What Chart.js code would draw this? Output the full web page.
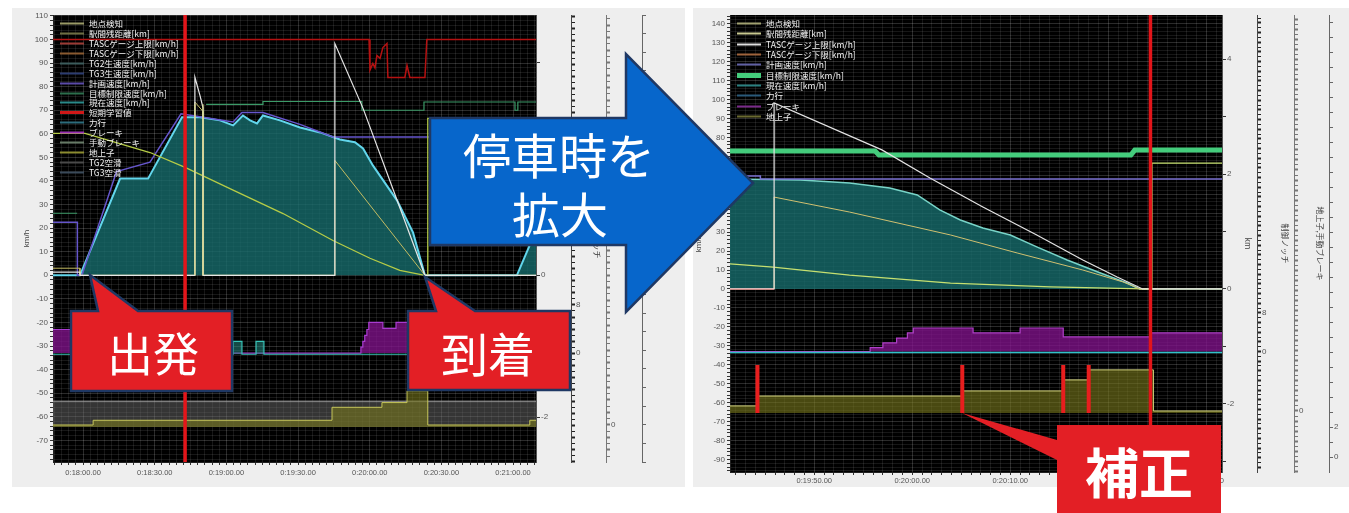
<!DOCTYPE html>
<html lang="ja">
<head>
<meta charset="utf-8">
<title>TASC 停車制御ログ</title>
<script src="https://cdn.jsdelivr.net/npm/chart.js@4.4.1/dist/chart.umd.min.js"></script>
<style>
  html, body { margin: 0; padding: 0; background: #ffffff; }
  body { width: 1349px; height: 513px; position: relative; overflow: hidden; }
  .panel { position: absolute; background: #eeeeee; }
  #pl { left: 12px; top: 8px; width: 673px; height: 479px; }
  #pr { left: 693px; top: 8px; width: 656px; height: 479px; }
  .panel canvas { position: absolute; left: 0; top: 0; }
  #over { position: absolute; left: 0; top: 0; }
  #over text { font-family: "Noto Sans CJK JP", sans-serif; fill: #ffffff; text-anchor: middle; dominant-baseline: central; }
</style>
</head>
<body>
<div class="panel" id="pl"><canvas id="cl" width="673" height="479"></canvas></div>
<div class="panel" id="pr"><canvas id="cr" width="656" height="479"></canvas></div>

<svg id="over" width="1349" height="513" viewBox="0 0 1349 513">
  <polygon points="430,118 626,118 626,54 753,183 626,312 626,245 430,245"
           fill="#0766cb" stroke="#1f3864" stroke-width="2.5"/>
  <text x="559" y="153" font-size="48">停車時を</text>
  <text x="560" y="212" font-size="48">拡大</text>

  <polygon points="71,311 98,311 90,275 138,311 232,311 232,391 71,391"
           fill="#e31f25" stroke="#1f3864" stroke-width="2.5"/>
  <text x="153" y="351" font-size="46">出発</text>

  <polygon points="408,311 436,311 425,277 475,311 570,311 570,390 408,390"
           fill="#e31f25" stroke="#1f3864" stroke-width="2.5"/>
  <text x="488" y="351" font-size="47">到着</text>

  <polygon points="1057,425 1221,425 1221,513 1057,513 1057,460 962,413 1057,440" fill="#e31f25"/>
  <text x="1139" y="470" font-size="54" font-weight="700">補正</text>
</svg>

<script>
// ===== 全体表示 0:17:47 – 0:21:10 (時刻は秒) =====
const L_SPEED_T  = [1067.4, 1078.7, 1095.5, 1107.2, 1121.4, 1129.0, 1137.3, 1142.8, 1146.9, 1149.9, 1152.8, 1155.3, 1162.4, 1170.8, 1179.2, 1187.5, 1193.8, 1197.2, 1201.3, 1211.4, 1218.1, 1223.1, 1261.6, 1269.6];
const L_SPEED_V  = [0, 0, 41, 41, 67, 67, 65.7, 63.6, 67.8, 65.7, 64.4, 67.8, 65.7, 62.7, 60.6, 57.6, 56.4, 53.8, 46.6, 31.8, 18.2, 0, 0, 19];

const L_PLAN_T   = [1067.4, 1077.6, 1077.6, 1079.5, 1094.0, 1108.0, 1121.0, 1142.8, 1146.5, 1155.3, 1170.8, 1184.6, 1269.6];
const L_PLAN_V   = [22.5, 22.5, 0, 0, 44, 48, 68.5, 65, 69, 69, 64, 58.7, 58.7];

const L_TARGET_T = [1067.4, 1077.5, 1077.6, 1131.5, 1155.3, 1155.3, 1196.7, 1196.7, 1222.7, 1222.7, 1260.8, 1260.8, 1262.0, 1262.0, 1269.6];
const L_TARGET_V = [26.3, 26.3, null, 72.5, 72.5, 73.7, 73.7, 70, 70, 73.5, 73.5, 70, 70, 73.5, 73.5];

const L_TASC_HI_T = [1067.4, 1078.7, 1078.7, 1126.8, 1126.8, 1129.0, 1130.2, 1130.2, 1185.4, 1185.4, 1197.2, 1223.1, 1269.6];
const L_TASC_HI_V = [1.3, 1.3, 0, 0, 84, 76, 71, 0, 0, 98.3, 70.8, 0, 0];

const L_TASC_LO_T = [1067.4, 1078.7, 1078.7, 1126.8, 1126.8, 1130.2, 1130.2, 1185.4, 1185.4, 1223.1, 1269.6];
const L_TASC_LO_V = [3, 3, 0, 0, 73.5, 69.5, 0, 0, 48.7, 0, 0];

const L_DETECT_T = [1126.8, 1126.8, 1127.0, 1130.2, 1130.2];
const L_DETECT_V = [0, 72.5, null, 0, 72.5];

const L_DIST_T   = [1067.4, 1080.8, 1108.0, 1122.7, 1142.8, 1163.7, 1184.6, 1200.1, 1212.6, 1223.1, 1224.3, 1224.3, 1269.6];
const L_DIST_KM  = [2.0, 2.0, 1.73, 1.52, 1.20, 0.87, 0.49, 0.24, 0.07, 0, 0, 2.21, 2.21];

const L_LEARN_T  = [1067.4, 1199.7, 1200.1, 1201.3, 1202.2, 1203.0, 1204.3, 1205.5, 1207.2, 1207.6, 1214.7, 1215.6, 1216.8, 1223.1, 1223.9, 1269.6];
const L_LEARN_V  = [100, 100, 87, 89.8, 88, 93.2, 92, 96.6, 98.3, 83.9, 83.9, 89, 83.9, 83.9, 100, 100];

const L_POWER_T  = [1067.4, 1142.8, 1146.5, 1152.4, 1155.7, 1269.6];
const L_POWER_V  = [-33.5, -28, -33.5, -28, -33.5, -33.5];

const L_BRAKE_T  = [1067.4, 1080.0, 1196.3, 1197.1, 1197.9, 1198.8, 1199.6, 1205.5, 1211.0, 1224.3, 1269.6];
const L_BRAKE_V  = [-23, -33, -30.5, -28, -25.5, -23, -20, -22.5, -20, -23, -23];

const L_GROUND_T = [1067.4, 1084.2, 1184.2, 1205.1, 1215.6, 1224.3, 1267.0, 1269.6];
const L_GROUND_V = [-63.5, -61.5, -56, -54, -49, -63.5, -61.5, -61.5];

const L_MANUAL_T = [1067.4, 1269.6];
const L_MANUAL_V = [-53.4, -53.4];

const L_CURSOR_T = 1122.7;

const L_LEGEND_NAMES  = ['地点検知', '駅間残距離[km]', 'TASCゲージ上限[km/h]', 'TASCゲージ下限[km/h]', 'TG2生速度[km/h]', 'TG3生速度[km/h]', '計画速度[km/h]', '目標制限速度[km/h]', '現在速度[km/h]', '短期学習値', '力行', 'ブレーキ', '手動ブレーキ', '地上子', 'TG2空滑', 'TG3空滑'];
const L_LEGEND_COLORS = ['#9a9a66', '#6e6e42', '#9c3a34', '#8a5a30', '#3c5c5c', '#2c3c70', '#5a4aa8', '#2c6e4c', '#2a8a8a', '#d01818', '#2c6c7c', '#9a30b4', '#667a66', '#8c8c30', '#4a4a4a', '#3a4a5a'];

// ===== 停車時拡大 0:19:41 – 0:20:31 =====
const R_SPEED_T  = [1181.4, 1188.6, 1193.6, 1197.7, 1200.5, 1202.8, 1204.9, 1207.2, 1210.0, 1212.7, 1215.8, 1219.2, 1221.9, 1223.2, 1231.6];
const R_SPEED_V  = [58, 57.5, 55.9, 53.3, 49.6, 41.7, 36.4, 32.2, 28.5, 22.2, 15.3, 8.4, 3.2, 0, 0];

const R_PLAN_T   = [1181.4, 1184.5, 1184.5, 1231.6];
const R_PLAN_V   = [59.6, 59.6, 58, 58];

const R_TARGET_T = [1181.4, 1196.2, 1196.6, 1222.3, 1222.7, 1231.6];
const R_TARGET_V = [72.8, 72.8, 70.7, 70.7, 73.3, 73.3];

const R_TASC_HI_T = [1181.4, 1185.9, 1185.9, 1196.9, 1201.8, 1207.2, 1212.7, 1217.4, 1220.9, 1223.5, 1231.6];
const R_TASC_HI_V = [0, 0, 98.2, 73.4, 58.6, 43.3, 28.5, 15.3, 6.3, 0, 0];

const R_TASC_LO_T = [1181.4, 1185.9, 1185.9, 1193.6, 1203.9, 1210.7, 1217.4, 1221.5, 1223.2, 1231.6];
const R_TASC_LO_V = [0, 0, 48.5, 40.6, 28.5, 19, 10, 3.7, 0, 0];

const R_DIST_T   = [1181.4, 1185.8, 1193.6, 1203.9, 1214.1, 1223.5, 1224.45, 1224.45, 1231.6];
const R_DIST_KM  = [0.435, 0.38, 0.24, 0.10, 0.035, 0, 0, 2.19, 2.19];

const R_LEARN_T  = [1181.4, 1185.9];
const R_LEARN_V  = [0, 0];

const R_POWER_T  = [1181.4, 1231.6];
const R_POWER_V  = [-33.5, -33.5];

const R_BRAKE_T  = [1181.4, 1195.7, 1197.0, 1198.4, 1199.5, 1200.1, 1206.2, 1211.0, 1215.4, 1224.3, 1231.6];
const R_BRAKE_V  = [-33, -31, -28.5, -25.9, -23.2, -20.6, -23.2, -20.6, -25.3, -23.2, -23.2];

const R_GROUND_T = [1181.4, 1184.2, 1205.1, 1215.4, 1218.0, 1224.6, 1231.6];
const R_GROUND_V = [-61.7, -56.5, -53.8, -48, -42.7, -64.4, -64.4];

const R_CURSOR_T = 1224.3;

// 地上子による位置補正の時刻
const R_FIX_T    = [1184.2, 1205.1, 1215.4, 1218.0];
const R_FIX_SPAN = [-40.1, -65.4];

const R_LEGEND_NAMES  = ['地点検知', '駅間残距離[km]', 'TASCゲージ上限[km/h]', 'TASCゲージ下限[km/h]', '計画速度[km/h]', '目標制限速度[km/h]', '現在速度[km/h]', '力行', 'ブレーキ', '地上子'];
const R_LEGEND_COLORS = ['#a0a070', '#c8c890', '#e0e0e0', '#a0643c', '#6060a4', '#44cc7c', '#2a8080', '#2a5a7a', '#7a2a8a', '#6a6a30'];

// ---------------------------------------------------------------
const GRID_MINOR = 'rgba(255,255,255,0.09)';
const GRID_MAJOR = 'rgba(255,255,255,0.17)';
const FONT_NUM = '"Liberation Sans", "DejaVu Sans", sans-serif';
const FONT_JP = '"Noto Sans CJK JP", sans-serif';

Chart.defaults.font.family = FONT_NUM;

function series(ts, vs) { return ts.map((t, i) => ({ x: t, y: vs[i] })); }
function vline(t, lo, hi) { return [{ x: t, y: lo }, { x: t, y: hi }]; }
function marks(ts, span) {
  const out = [];
  ts.forEach(t => { out.push({ x: t, y: span[0] }, { x: t, y: span[1] }, { x: t + 0.01, y: null }); });
  return out;
}
function isMult(v, s) { const r = v / s; return Math.abs(r - Math.round(r)) < 1e-6; }
function fmtTime(sec) {
  sec = Math.round(sec);
  const h = Math.floor(sec / 3600), m = Math.floor(sec % 3600 / 60), s = sec % 60;
  return h + ':' + String(m).padStart(2, '0') + ':' + String(s).padStart(2, '0') + '.00';
}
function line(data, color, width, extra) {
  return Object.assign({ data, borderColor: color, borderWidth: width, pointRadius: 0,
                         fill: false, tension: 0, yAxisID: 'y' }, extra || {});
}

const plotBg = {
  id: 'plotBg',
  beforeDraw(chart) {
    const { ctx, chartArea: a } = chart;
    ctx.save();
    ctx.fillStyle = '#000000';
    ctx.fillRect(a.left, a.top, a.right - a.left, a.bottom - a.top);
    ctx.restore();
  }
};

function rowLegend(names, colors, x0, y0, dy, thick) {
  return {
    id: 'rowLegend',
    afterDatasetsDraw(chart) {
      const ctx = chart.ctx;
      ctx.save();
      ctx.font = '8.5px ' + FONT_JP;
      ctx.textBaseline = 'middle';
      ctx.textAlign = 'left';
      names.forEach((name, i) => {
        const y = Math.round(y0 + i * dy) + 0.5;
        ctx.strokeStyle = colors[i];
        ctx.lineWidth = thick[i] || 2;
        ctx.beginPath(); ctx.moveTo(x0, y); ctx.lineTo(x0 + 24, y); ctx.stroke();
        ctx.fillStyle = '#f2f2f2';
        ctx.fillText(name, x0 + 29, y);
      });
      ctx.restore();
    }
  };
}

function sideAxis(o) {
  return {
    type: 'linear', position: 'right', weight: o.weight, min: o.min, max: o.max,
    afterFit: s => { s.width = o.width; },
    grid: { drawOnChartArea: false, drawTicks: true, tickLength: 4, tickColor: o.tickColor,
            tickWidth: c => (o.thick && isMult(c.tick.value, 2)) ? 2 : 1 },
    border: { display: true, color: o.lineColor, width: 1 },
    ticks: { stepSize: o.step, autoSkip: false, includeBounds: false, padding: 1, color: '#555',
             font: { size: 8 },
             callback: v => o.labels.some(l => Math.abs(l - v) < 1e-6) ? String(Math.round(v)) : '' },
    title: o.title ? { display: true, text: o.title, color: '#444', font: { size: 8, family: FONT_JP },
                       padding: { top: 4, bottom: 0 } } : { display: false }
  };
}

function buildScales(ax) {
  const map = (off, unit) => ({ min: (ax.vMin - off) / unit, max: (ax.vMax - off) / unit });
  const km = map(0, ax.kmUnit), notch = map(-33, 2.55), gnd = map(ax.gndZero, 2.65), aux = map(-88.7, 7.9);
  return {
    x: {
      type: 'linear', position: 'bottom', min: ax.tMin, max: ax.tMax,
      afterFit: s => { s.height = ax.bottomH; },
      ticks: { stepSize: ax.tMinor, autoSkip: false, maxRotation: 0, minRotation: 0, includeBounds: false,
               padding: ax.xPad, color: '#555', font: { size: 7.5 },
               callback: v => isMult(v, ax.tLabel) ? fmtTime(v) : '' },
      grid: { color: c => isMult(c.tick.value, ax.tLabel) ? GRID_MAJOR : GRID_MINOR,
              tickColor: '#333', tickLength: 3, lineWidth: 1 },
      border: { display: true, color: '#222' }
    },
    y: {
      type: 'linear', position: 'left', min: ax.vMin, max: ax.vMax,
      afterFit: s => { s.width = ax.leftW; },
      ticks: { stepSize: 2, autoSkip: false, includeBounds: false, padding: 2, color: '#555', font: { size: 8 },
               callback: v => isMult(v, 10) ? String(Math.round(v)) : '' },
      grid: { color: c => isMult(c.tick.value, 10) ? GRID_MAJOR : GRID_MINOR, tickColor: '#333', tickLength: 3 },
      border: { display: true, color: '#222' },
      title: { display: true, text: 'km/h', color: '#444', font: { size: 8 },
               padding: { top: ax.yTitlePad, bottom: 0 } }
    },
    km: sideAxis({ weight: 1, width: ax.sideW[0], min: km.min, max: km.max, step: 1, labels: [-2, 0, 2, 4],
                   tickColor: '#333', lineColor: '#555', title: 'km' }),
    notch: sideAxis({ weight: 2, width: ax.sideW[1], min: notch.min, max: notch.max, step: 1, labels: [0, 8],
                      tickColor: '#222', lineColor: '#444', thick: true, title: '制御ノッチ' }),
    gnd: sideAxis({ weight: 3, width: ax.sideW[2], min: gnd.min, max: gnd.max, step: 1, labels: [0],
                    tickColor: '#777', lineColor: '#777', thick: true, title: '地上子,手動ブレーキ' }),
    aux: sideAxis({ weight: 4, width: ax.sideW[3], min: aux.min, max: aux.max, step: 1, labels: [0, 2],
                    tickColor: '#666', lineColor: '#666' })
  };
}

function makeChart(id, ax, sets, legend) {
  return new Chart(document.getElementById(id), {
    type: 'line',
    data: { datasets: sets.map((d, i) => Object.assign(d, { order: i })) },
    options: {
      responsive: false, animation: false, events: [],
      layout: { padding: { top: 7, left: 0, right: 0, bottom: 0 } },
      plugins: { legend: { display: false }, tooltip: { enabled: false } },
      scales: buildScales(ax)
    },
    plugins: [plotBg, legend]
  });
}

// ----- 全体表示 -----
const AX_L = { tMin: 1067.4, tMax: 1269.6, vMin: -79.2, vMax: 110.4, tMinor: 3, tLabel: 30,
               kmUnit: 30.1, gndZero: -63.5, leftW: 41, bottomH: 25, xPad: 3, yTitlePad: 10,
               sideW: [35, 35, 36, 43] };
makeChart('cl', AX_L, [
  line(vline(L_CURSOR_T, AX_L.vMin, AX_L.vMax), '#e3151a', 3.5),
  line(series(L_DETECT_T, L_DETECT_V), '#d6d68c', 1.2),
  line(series(L_TASC_HI_T, L_TASC_HI_V), '#e6e6e6', 1.2),
  line(series(L_TASC_LO_T, L_TASC_LO_V), '#c4bc62', 1),
  line(series(L_DIST_T, L_DIST_KM), '#b6cc46', 1.3, { yAxisID: 'km' }),
  line(series(L_TARGET_T, L_TARGET_V), '#3c9a68', 1.2),
  line(series(L_PLAN_T, L_PLAN_V), '#6656cc', 1.5),
  line(series(L_SPEED_T, L_SPEED_V), '#62d6ec', 2, { fill: 'origin', backgroundColor: 'rgba(22,108,108,0.8)' }),
  line(series(L_LEARN_T, L_LEARN_V), '#b51212', 1.5),
  line(series(L_POWER_T, L_POWER_V), '#38c4b8', 1.2, { stepped: true, fill: { value: -33.5 }, backgroundColor: 'rgba(40,150,140,0.5)' }),
  line(series(L_BRAKE_T, L_BRAKE_V), '#a83cd0', 1.2, { stepped: true, fill: { value: -33 }, backgroundColor: 'rgba(128,18,138,0.78)' }),
  line(series(L_GROUND_T, L_GROUND_V), '#c6c65a', 1, { stepped: true, fill: { value: -64.4 }, backgroundColor: 'rgba(118,118,28,0.6)' }),
  line(series(L_MANUAL_T, L_MANUAL_V), '#a8a8a8', 1, { fill: { value: -64.4 }, backgroundColor: 'rgba(105,105,105,0.5)' })
], rowLegend(L_LEGEND_NAMES, L_LEGEND_COLORS, 48, 15, 9.93, { 9: 3 }));

// ----- 停車時拡大 -----
const AX_R = { tMin: 1181.4, tMax: 1231.6, vMin: -96.6, vMax: 144.6, tMinor: 1, tLabel: 10,
               kmUnit: 30.34, gndZero: -64.4, leftW: 37, bottomH: 15, xPad: 1, yTitlePad: 1,
               sideW: [35, 37, 35, 20] };
makeChart('cr', AX_R, [
  line(vline(R_CURSOR_T, AX_R.vMin, AX_R.vMax), '#e3151a', 3.5),
  line(marks(R_FIX_T, R_FIX_SPAN), '#e81e1e', 4),
  line(series(R_TASC_HI_T, R_TASC_HI_V), '#e4e4e4', 1.2),
  line(series(R_LEARN_T, R_LEARN_V), '#c01818', 1.5),
  line(series(R_TASC_LO_T, R_TASC_LO_V), '#d0c070', 1),
  line(series(R_DIST_T, R_DIST_KM), '#c6e070', 1.3, { yAxisID: 'km' }),
  line(series(R_TARGET_T, R_TARGET_V), '#44cc7c', 5),
  line(series(R_PLAN_T, R_PLAN_V), '#7a70d0', 1.5),
  line(series(R_SPEED_T, R_SPEED_V), '#78d4c8', 1.5, { fill: 'origin', backgroundColor: 'rgba(22,108,108,0.8)' }),
  line(series(R_POWER_T, R_POWER_V), '#30c0c8', 1.5),
  line(series(R_BRAKE_T, R_BRAKE_V), '#b040c8', 1.2, { stepped: true, fill: { value: -33 }, backgroundColor: 'rgba(128,18,138,0.78)' }),
  line(series(R_GROUND_T, R_GROUND_V), '#d6d680', 1, { stepped: true, fill: { value: -65.4 }, backgroundColor: 'rgba(118,118,28,0.62)' })
], rowLegend(R_LEGEND_NAMES, R_LEGEND_COLORS, 44, 15, 10.33, { 5: 5 }));
</script>
</body>
</html>
